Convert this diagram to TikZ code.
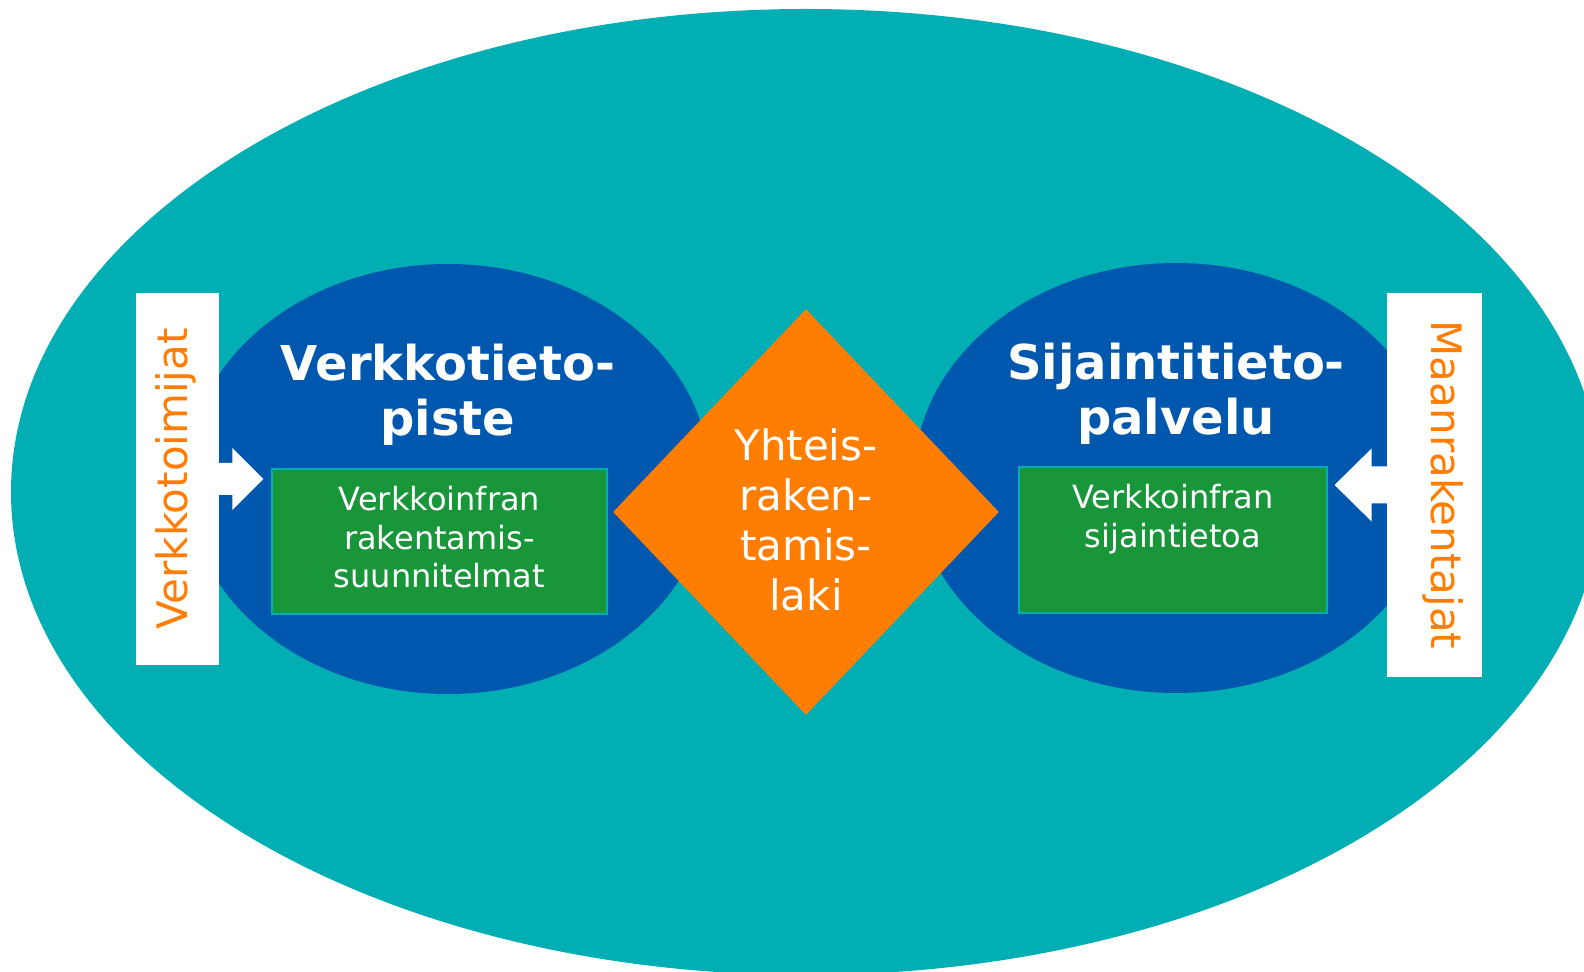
\documentclass[tikz,border=0pt]{standalone}
\usepackage{fontspec}
\setmainfont{DejaVu Sans}
\usetikzlibrary{shapes.geometric,calc}
\definecolor{fieldteal}{RGB}{0,174,179}
\definecolor{ovalblue}{RGB}{0,87,174}
\definecolor{lawor}{RGB}{255,125,0}
\definecolor{plangreen}{RGB}{24,150,57}
\def\gap{18}
\def\W{1584}
\def\H{972}

\begin{document}
\begin{tikzpicture}[x=0.5pt, y=-0.5pt,
  oval/.style={ellipse, fill=ovalblue, inner sep=0pt, minimum width=262pt, minimum height=215pt},
  greenbox/.style={rectangle, fill=plangreen, draw=fieldteal, line width=1pt, inner sep=0pt},
  sidebox/.style={rectangle, fill=white, inner sep=0pt},
  ovaltitle/.style={text=white, font=\bfseries\fontsize{24pt}{27.25pt}\selectfont, align=center, inner sep=0pt, anchor=north},
  boxtext/.style={text=white, font=\fontsize{16pt}{19.25pt}\selectfont, align=center, inner sep=0pt, anchor=north},
  lawtext/.style={text=white, font=\fontsize{21pt}{25pt}\selectfont, align=center, inner sep=0pt, anchor=north},
  sidetext/.style={text=lawor, font=\fontsize{21pt}{24pt}\selectfont, inner sep=0pt, anchor=base}]
  % page
  \useasboundingbox (0,0) rectangle (\W,\H);
  \fill[white] (0,0) rectangle (\W,\H);
  \begin{scope}
    \clip (0,0) rectangle (\W,\H);
    \node[ellipse, fill=fieldteal, inner sep=0pt, minimum width=795pt, minimum height=483pt] (field) at (806,492) {};
  \end{scope}

  % the two services
  \node[oval] (vtp) at (448,479) {};
  \node[oval] (stp) at (1176,478) {};

  \node[greenbox, minimum width=167.5pt, minimum height=72.5pt] (plans) at (439.5,541.5) {};
  \node[greenbox, minimum width=154pt, minimum height=73pt] (locdata) at (1173,540) {};

  % the law in the middle
  \node[diamond, fill=lawor, inner sep=0pt, minimum width=193pt, minimum height=203pt] (law) at (806,512) {};

  % actors on both sides
  \node[sidebox, minimum width=41.5pt, minimum height=186pt] (actors) at (177.5,479) {};
  \node[sidebox, minimum width=47.5pt, minimum height=192pt] (builders) at (1434.5,485) {};
  \fill[white] ($(actors.east)+(-1,-16)$) -- ++(14,0) -- ++(0,-15) -- ++(31,31) -- ++(-31,31) -- ++(0,-15) -- ++(-14,0) -- cycle;
  \fill[white] ($(builders.west)+(1,-18.5)$) -- ++(-16,0) -- ++(0,-18) -- ++(-37,36.5) -- ++(37,36.5) -- ++(0,-18) -- ++(16,0) -- cycle;

  % texts
  \node[ovaltitle] (vtptitle) at ($(vtp.north)+(0,80.5)$) {Verkkotieto-\\piste};
  \node[ovaltitle] (stptitle) at ($(stp.north)+(0,80.5)$) {Sijaintitieto-\\palvelu};
  \node[boxtext] (planstext) at ($(plans.north)+(0,\gap)$) {Verkkoinfran\\rakentamis-\\suunnitelmat};
  \node[boxtext] (locdatatext) at ($(locdata.north)+(0,\gap)$) {Verkkoinfran\\sijaintietoa};
  \node[lawtext] (lawlabel) at ($(law.north)+(0,120)$) {Yhteis-\\raken-\\tamis-\\laki};
  \node[sidetext, rotate=90] (actorstext) at ($(actors.center)+(10,0)$) {Verkkotoimijat};
  \node[sidetext, rotate=-90] (builderstext) at ($(builders.center)+(-3,0)$) {Maanrakentajat};
\end{tikzpicture}
\end{document}
